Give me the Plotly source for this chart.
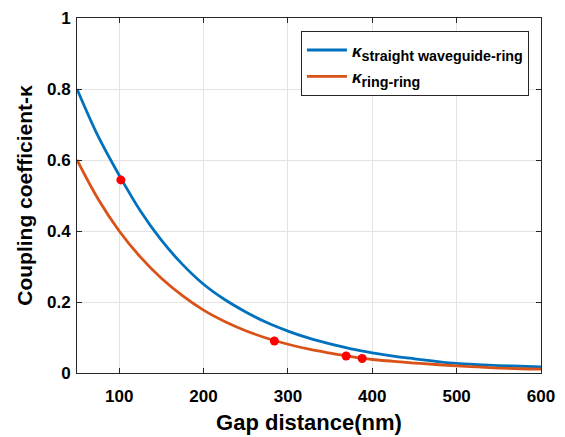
import plotly.graph_objects as go

gap_nm = [50, 75, 100, 125, 150, 175, 200, 225, 250, 275, 300, 325, 350, 375,
          400, 425, 450, 475, 500, 525, 550, 575, 600]
kappa_wg_ring = [0.800, 0.667, 0.557, 0.457, 0.374, 0.306, 0.250, 0.207, 0.172,
                 0.142, 0.118, 0.098, 0.082, 0.068, 0.057, 0.0475, 0.040, 0.033,
                 0.027, 0.0235, 0.021, 0.019, 0.017]
kappa_ring_ring = [0.600, 0.490, 0.400, 0.327, 0.267, 0.218, 0.177, 0.145, 0.119,
                   0.098, 0.081, 0.067, 0.056, 0.046, 0.038, 0.033, 0.028, 0.024,
                   0.020, 0.017, 0.014, 0.012, 0.011]
marker_x = [102, 284, 369, 388]
marker_y = [0.544, 0.090, 0.048, 0.041]
legend_names = ["straight waveguide-ring", "ring-ring"]

FONT = "Liberation Sans, Arial, sans-serif"


def kappa_label(sub):
    return ('<b><span style="font-size:17px"><i>κ</i></span><sub>'
            '<span style="font-size:14.3px">' + sub + '</span></sub></b>')


fig = go.Figure()
fig.add_trace(go.Scatter(
    x=gap_nm, y=kappa_wg_ring, mode="lines", line=dict(color="#0072BD", width=2.8, shape="spline"),
    name=kappa_label(legend_names[0])))
fig.add_trace(go.Scatter(
    x=gap_nm, y=kappa_ring_ring, mode="lines", line=dict(color="#D95319", width=2.8, shape="spline"),
    name=kappa_label(legend_names[1])))
fig.add_trace(go.Scatter(
    x=marker_x, y=marker_y, mode="markers", marker=dict(color="#FF0000", size=9),
    showlegend=False))

axis_common = dict(
    showline=True, linecolor="#262626", linewidth=1, mirror="ticks",
    ticks="inside", ticklen=5, tickcolor="#262626", automargin=False,
    showgrid=True, gridcolor="#E3E3E3", gridwidth=1, zeroline=False,
    tickfont=dict(family=FONT, size=17, color="#000000", weight="bold"),
)
fig.update_xaxes(range=[50, 600], tickvals=[100, 200, 300, 400, 500, 600],
                 ticklabelstandoff=8,
                 title=dict(text="<b>Gap distance(nm)</b>", font=dict(family=FONT, size=22, color="#000"), standoff=9),
                 **axis_common)
fig.update_yaxes(range=[0, 1], tickvals=[0, 0.2, 0.4, 0.6, 0.8, 1],
                 ticktext=["0", "0.2", "0.4", "0.6", "0.8", "1"],
                 ticklabelstandoff=2,
                 title=dict(text="<b>Coupling coefficient-κ</b>", font=dict(family=FONT, size=21, color="#000"), standoff=8),
                 **axis_common)
fig.update_layout(
    width=565, height=437,
    margin=dict(l=77, r=24, t=18, b=64),
    plot_bgcolor="white", paper_bgcolor="white",
    legend=dict(x=0.974, y=0.964, xanchor="right", yanchor="top",
                bgcolor="white", bordercolor="#262626", borderwidth=1,
                font=dict(family=FONT, size=18, color="#000"),
                tracegroupgap=0, itemwidth=40),
)
fig.write_html("out.html")
